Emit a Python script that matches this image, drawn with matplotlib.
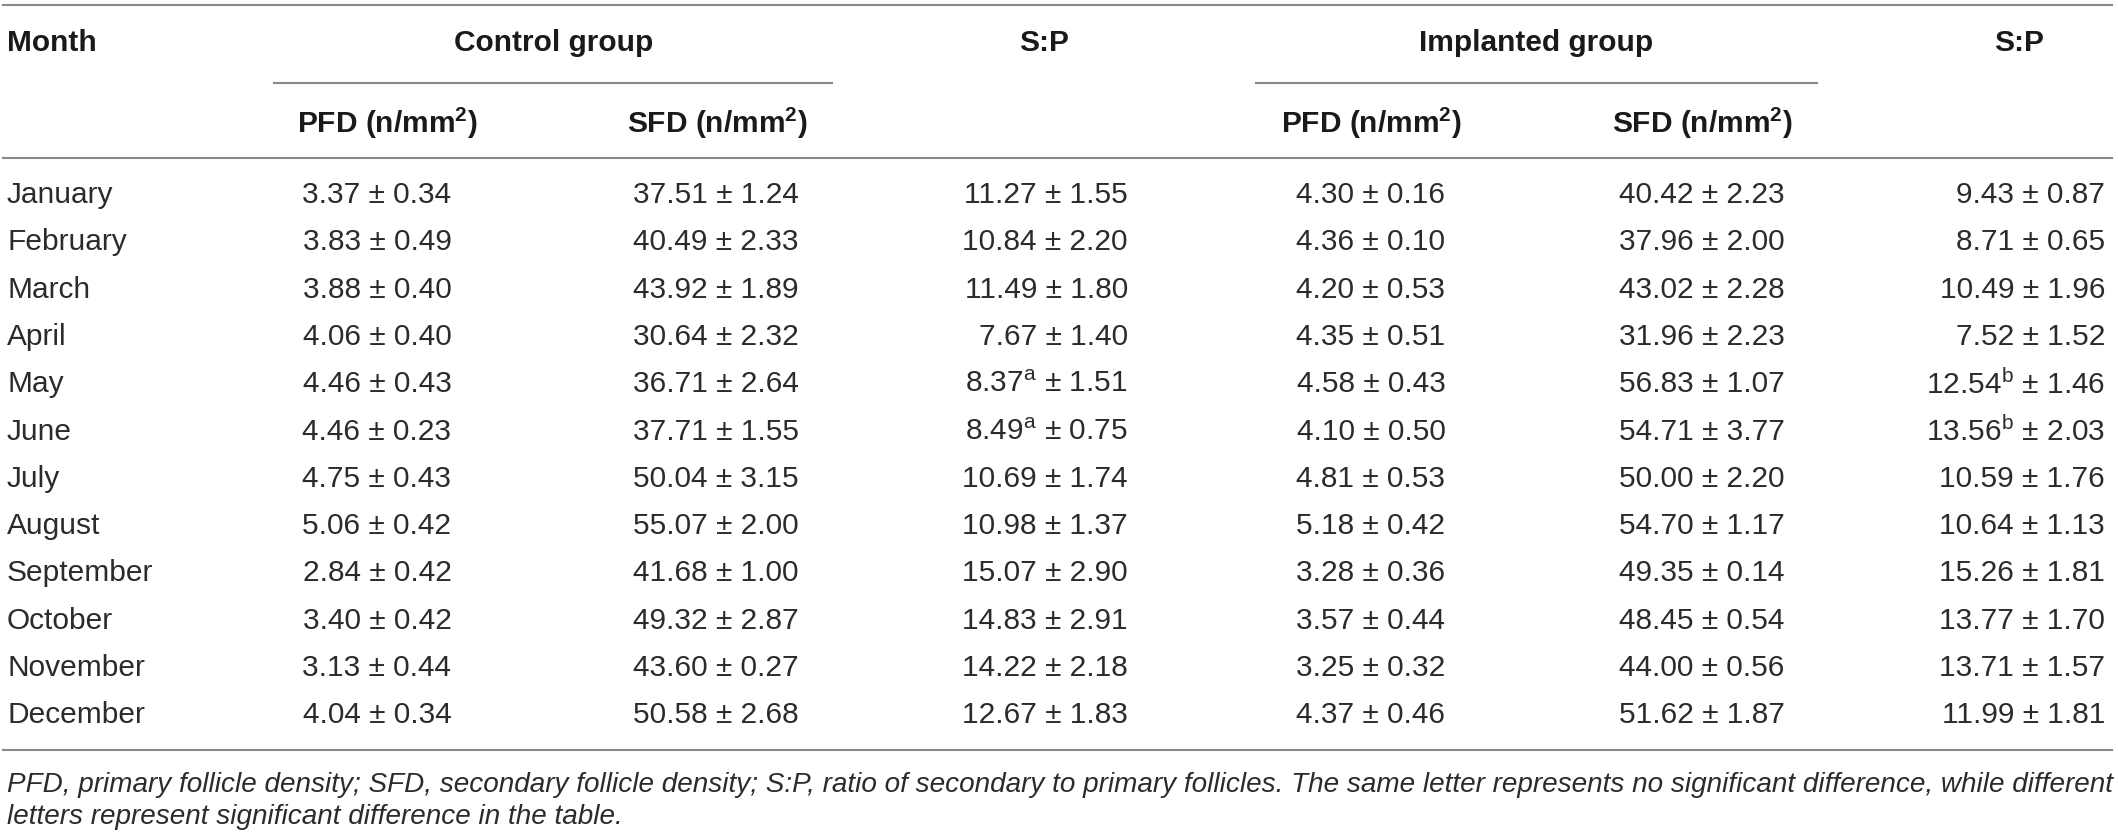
import matplotlib
matplotlib.use('Agg')
import matplotlib.pyplot as plt

plt.rcParams['font.family'] = ['Liberation Sans', 'DejaVu Sans']
plt.rcParams['mathtext.fontset'] = 'custom'
plt.rcParams['mathtext.rm'] = 'Liberation Sans'
plt.rcParams['mathtext.bf'] = 'Liberation Sans:bold'
plt.rcParams['mathtext.it'] = 'Liberation Sans:italic'

months = ['January', 'February', 'March', 'April', 'May', 'June', 'July',
          'August', 'September', 'October', 'November', 'December']

# (mean, SE) per month
ctrl_pfd = [(3.37, 0.34), (3.83, 0.49), (3.88, 0.40), (4.06, 0.40), (4.46, 0.43), (4.46, 0.23),
            (4.75, 0.43), (5.06, 0.42), (2.84, 0.42), (3.40, 0.42), (3.13, 0.44), (4.04, 0.34)]
ctrl_sfd = [(37.51, 1.24), (40.49, 2.33), (43.92, 1.89), (30.64, 2.32), (36.71, 2.64), (37.71, 1.55),
            (50.04, 3.15), (55.07, 2.00), (41.68, 1.00), (49.32, 2.87), (43.60, 0.27), (50.58, 2.68)]
ctrl_sp = [(11.27, 1.55), (10.84, 2.20), (11.49, 1.80), (7.67, 1.40), (8.37, 1.51), (8.49, 0.75),
           (10.69, 1.74), (10.98, 1.37), (15.07, 2.90), (14.83, 2.91), (14.22, 2.18), (12.67, 1.83)]
ctrl_sp_letter = ['', '', '', '', 'a', 'a', '', '', '', '', '', '']

imp_pfd = [(4.30, 0.16), (4.36, 0.10), (4.20, 0.53), (4.35, 0.51), (4.58, 0.43), (4.10, 0.50),
           (4.81, 0.53), (5.18, 0.42), (3.28, 0.36), (3.57, 0.44), (3.25, 0.32), (4.37, 0.46)]
imp_sfd = [(40.42, 2.23), (37.96, 2.00), (43.02, 2.28), (31.96, 2.23), (56.83, 1.07), (54.71, 3.77),
           (50.00, 2.20), (54.70, 1.17), (49.35, 0.14), (48.45, 0.54), (44.00, 0.56), (51.62, 1.87)]
imp_sp = [(9.43, 0.87), (8.71, 0.65), (10.49, 1.96), (7.52, 1.52), (12.54, 1.46), (13.56, 2.03),
          (10.59, 1.76), (10.64, 1.13), (15.26, 1.81), (13.77, 1.70), (13.71, 1.57), (11.99, 1.81)]
imp_sp_letter = ['', '', '', '', 'b', 'b', '', '', '', '', '', '']

group_labels = ['Control group', 'Implanted group']
sub_labels = ['PFD (n/mm$^{\\mathbf{2}}$)', 'SFD (n/mm$^{\\mathbf{2}}$)']
footnote = ['PFD, primary follicle density; SFD, secondary follicle density; S:P, ratio of secondary to '
            'primary follicles. The same letter represents no significant difference, while different',
            'letters represent significant difference in the table.']


def fmt(pair, letter=''):
    m, s = pair
    if letter:
        return f'{m:.2f}$^{{\\mathrm{{{letter}}}}}$ ± {s:.2f}'
    return f'{m:.2f} ± {s:.2f}'


W, H = 2118, 836
fig = plt.figure(figsize=(W / 100, H / 100), dpi=100)
ax = fig.add_axes([0, 0, 1, 1])
ax.set_xlim(0, W)
ax.set_ylim(H, 0)
ax.axis('off')

fs = 21.5
val_col = '#2b2b2b'
head_col = '#1a1a1a'
line_col = '#8a8a8a'
lw = 1.5

# rules
ax.plot([3, 2112], [5, 5], color=line_col, lw=lw)
ax.plot([274, 832], [83, 83], color=line_col, lw=lw)
ax.plot([1256, 1817], [83, 83], color=line_col, lw=lw)
ax.plot([3, 2112], [158, 158], color=line_col, lw=lw)
ax.plot([3, 2112], [750, 750], color=line_col, lw=lw)

# header
ax.text(7, 43, 'Month', fontsize=fs, fontweight='bold', color=head_col, va='center', ha='left')
ax.text(554, 43, group_labels[0], fontsize=fs, fontweight='bold', color=head_col, va='center', ha='center')
ax.text(1044, 43, 'S:P', fontsize=fs, fontweight='bold', color=head_col, va='center', ha='center')
ax.text(1536, 43, group_labels[1], fontsize=fs, fontweight='bold', color=head_col, va='center', ha='center')
ax.text(2019, 43, 'S:P', fontsize=fs, fontweight='bold', color=head_col, va='center', ha='center')
for x, lab in zip([387, 717, 1371, 1702], sub_labels * 2):
    ax.text(x, 123, lab, fontsize=fs, fontweight='bold', color=head_col, va='center', ha='center')

# body
y0, dy = 195, 47.3
for i, mon in enumerate(months):
    y = y0 + i * dy
    ax.text(7, y, mon, fontsize=fs, color=val_col, va='center', ha='left')
    ax.text(377, y, fmt(ctrl_pfd[i]), fontsize=fs, color=val_col, va='center', ha='center')
    ax.text(716, y, fmt(ctrl_sfd[i]), fontsize=fs, color=val_col, va='center', ha='center')
    ax.text(1128, y, fmt(ctrl_sp[i], ctrl_sp_letter[i]), fontsize=fs, color=val_col, va='center', ha='right')
    ax.text(1371, y, fmt(imp_pfd[i]), fontsize=fs, color=val_col, va='center', ha='center')
    ax.text(1702, y, fmt(imp_sfd[i]), fontsize=fs, color=val_col, va='center', ha='center')
    ax.text(2105, y, fmt(imp_sp[i], imp_sp_letter[i]), fontsize=fs, color=val_col, va='center', ha='right')

# footnote, first line stretched to the table width
renderer = fig.canvas.get_renderer()
t1 = ax.text(7, 785, footnote[0], fontsize=fs, style='italic', color=val_col, va='center', ha='left')
w1 = t1.get_window_extent(renderer).width
fs_foot = fs * (2112 - 7) / w1
t1.set_fontsize(fs_foot)
ax.text(7, 817, footnote[1], fontsize=fs_foot, style='italic', color=val_col, va='center', ha='left')

fig.savefig('out.png', dpi=100, facecolor='white')
